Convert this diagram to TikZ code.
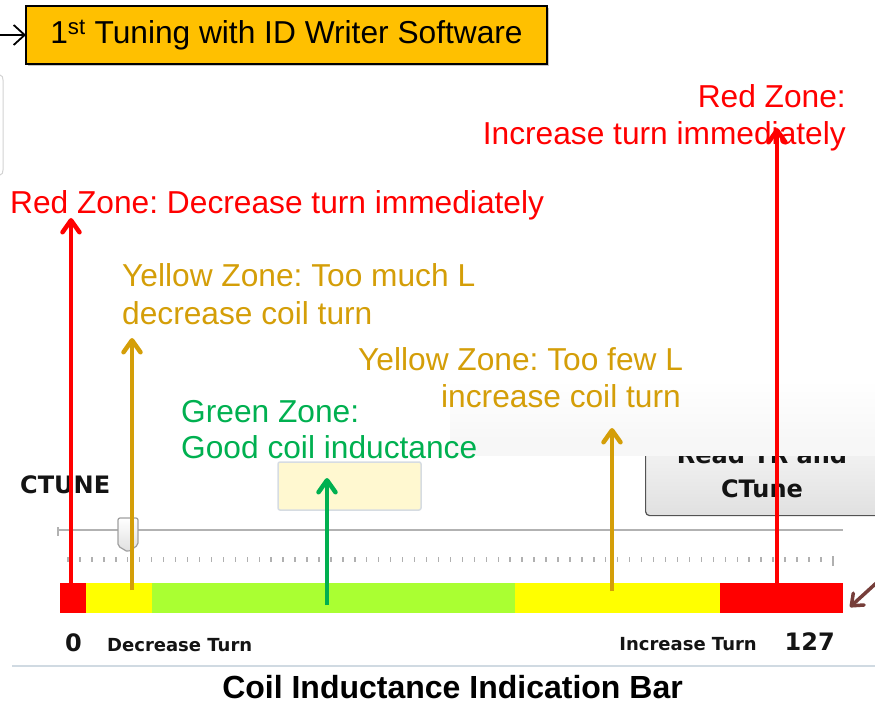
\documentclass[tikz,border=0pt]{standalone}
\usepackage{fontspec}
\setmainfont{Liberation Sans}
\newfontfamily\uifont{DejaVu Sans}
\usetikzlibrary{arrows.meta,shadows}
\frenchspacing
\definecolor{zred}{RGB}{255,0,0}
\definecolor{zgold}{RGB}{212,158,8}
\definecolor{zgreen}{RGB}{0,176,80}
\definecolor{bargreen}{RGB}{170,255,50}
\definecolor{baryellow}{RGB}{255,255,0}
\definecolor{zorange}{RGB}{255,192,0}
\definecolor{zbrown}{RGB}{118,62,58}
\definecolor{sepline}{RGB}{208,218,226}
\definecolor{valfill}{RGB}{255,248,208}
\definecolor{valdraw}{RGB}{214,220,226}
\definecolor{bgveil}{RGB}{247,247,247}
\definecolor{uitext}{RGB}{20,20,20}
\begin{document}
\begin{tikzpicture}[x=1pt,y=-1pt,
  lab/.style={inner sep=0pt, font=\fontsize{31.7}{37}\selectfont},
  zarrow/.style={line width=4.5pt, -{Straight Barb[length=12pt,width=17pt,round]}},
  ui/.style={inner sep=0pt, text=uitext, font=\uifont\bfseries\fontsize{24}{28}\selectfont},
  uis/.style={inner sep=0pt, text=uitext, font=\uifont\bfseries\fontsize{18}{22}\selectfont},
  seg/.style={inner sep=0pt, outer sep=0pt, minimum height=30pt, draw=none, anchor=north west},
  tickmark/.style={draw={rgb,255:red,176;green,176;blue,176}, line width=1.4pt},
]
\useasboundingbox (0,0) rectangle (875,703);

% top title box
\node[draw=black, line width=1.2pt, fill=zorange, minimum width=521pt, minimum height=58pt, inner sep=0pt, outer sep=0pt,
      drop shadow={opacity=0.45, shadow xshift=2pt, shadow yshift=-2pt},
      font=\fontsize{31.7}{37}\selectfont] (title1) at (286.5,35) {1\textsuperscript{st} Tuning with ID Writer Software};
\coordinate (inarrow) at (0,35);
\draw[line width=1.8pt, -{Straight Barb[length=11pt,width=20pt]}] (inarrow) -- (title1.west);

% left edge bracket
\draw[gray!35, line width=1pt] (0,75) to[out=0,in=90] (3,80) -- (3,170) to[out=-90,in=0] (0,175);

% screenshot elements
\node[ui, anchor=base west] (ctune) at (20,493) {CTUNE};
\node[draw=valdraw, fill=valfill, line width=1.5pt, rounded corners=2pt, minimum width=143pt, minimum height=48pt] (valbox) at (349.5,486) {};
\node[draw=gray!65!black, line width=1.2pt, rounded corners=4pt, top color=gray!6, bottom color=gray!24,
      minimum width=260pt, minimum height=85pt, anchor=north west] (btn) at (645,430) {};
\node[ui, anchor=base] (btnl1) at (762,463) {Read TR and};
\node[ui, anchor=base] (btnl2) at (762,497) {CTune};

% slider
\coordinate (trL) at (58,530);
\coordinate (trR) at (843,530);
\draw[gray!60, line width=2pt] (trL) -- (trR);
\draw[gray!60, line width=1.5pt] (58,527) -- (58,536);
\foreach \i in {0,...,63} \draw[tickmark] ({68+\i*11.95},557) -- ++(0,5);
\draw[tickmark] (833,556) -- (833,566);
\draw[draw=gray!75, line width=1.2pt, top color=white, bottom color=gray!25, rounded corners=2pt]
  (118,546) -- (118,518) -- (138,518) -- (138,545) -- (128,552) -- cycle;

% color bar
\node[seg, fill=zred, minimum width=26pt] (s1) at (60,583) {};
\node[seg, fill=baryellow, minimum width=66pt] (s2) at (86,583) {};
\node[seg, fill=bargreen, minimum width=363pt] (s3) at (152,583) {};
\node[seg, fill=baryellow, minimum width=205pt] (s4) at (515,583) {};
\node[seg, fill=zred, minimum width=123pt] (s5) at (720,583) {};

% slide background veil
\shade[top color=white, bottom color=bgveil] (450,380) rectangle (875,440);
\fill[bgveil] (450,439.5) rectangle (875,456);

% labels
\node[lab, text=zred, anchor=base east] (rr1) at (846,108) {Red Zone:};
\node[lab, text=zred, anchor=base east] (rr2) at (846,145) {Increase turn immediately};
\node[lab, text=zred, anchor=base west] (rl) at (10,214) {Red Zone: Decrease turn immediately};
\node[lab, text=zgold, anchor=base west] (yl1) at (122,287) {Yellow Zone: Too much L};
\node[lab, text=zgold, anchor=base west] (yl2) at (122,324) {decrease coil turn};
\node[lab, text=zgold, anchor=base west] (yr1) at (358,370) {Yellow Zone: Too few L};
\node[lab, text=zgold, anchor=base east] (yr2) at (681,407) {increase coil turn};
\node[lab, text=zgreen, anchor=base west] (g1) at (181,422) {Green Zone:};
\node[lab, text=zgreen, anchor=base west] (g2) at (181,458) {Good coil inductance};

% arrows
\coordinate (aRL) at (71,583);  \coordinate (tRL) at (71,218);
\coordinate (aYL) at (132,590); \coordinate (tYL) at (132,338);
\coordinate (aG) at (327,605);  \coordinate (tG) at (327,478);
\coordinate (aYR) at (612,591); \coordinate (tYR) at (612,428);
\coordinate (aRR) at (777,583); \coordinate (tRR) at (777,128);
\draw[zarrow, zred] (aRL) -- (tRL);
\draw[zarrow, zgold] (aYL) -- (tYL);
\draw[zarrow, zgreen] (aG) -- (tG);
\draw[zarrow, zgold] (aYR) -- (tYR);
\draw[zarrow, zred] (aRR) -- (tRR);

% bottom labels
\node[ui, anchor=base west] (zero) at (65,651) {0};
\node[uis, anchor=base west] (dect) at (107,651) {Decrease Turn};
\node[uis, anchor=base east] (inct) at (757,650) {Increase Turn};
\node[ui, anchor=base east] (max) at (835,650) {127};
\draw[sepline, line width=1.5pt] (12,666) -- (875,666);
\node[inner sep=0pt, anchor=base, font=\bfseries\fontsize{32}{36}\selectfont] (cap) at (452.5,698) {Coil Inductance Indication Bar};

% brown arrow
\coordinate (bS) at (884,576);
\coordinate (bE) at (850,607);
\draw[zbrown, line width=3.5pt, -{Straight Barb[length=10pt,width=16pt,round]}] (bS) -- (bE);
\end{tikzpicture}
\end{document}
